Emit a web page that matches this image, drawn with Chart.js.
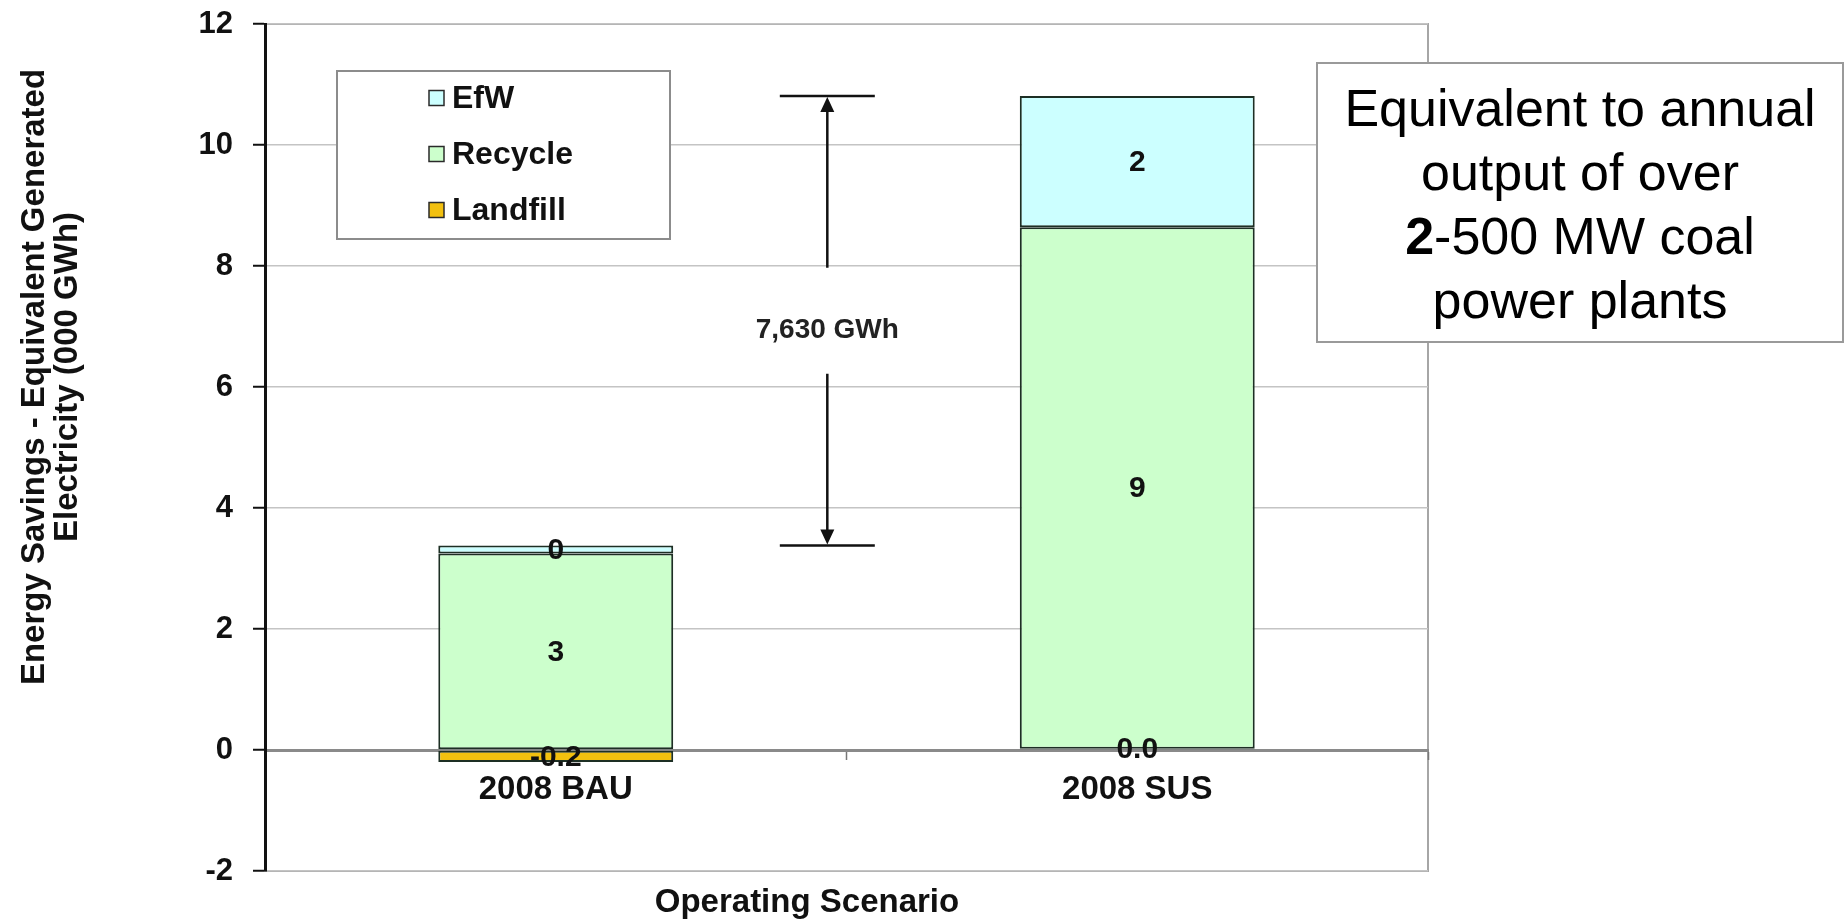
<!DOCTYPE html>
<html>
<head>
<meta charset="utf-8">
<title>Energy Savings by Operating Scenario</title>
<script src="https://cdn.jsdelivr.net/npm/chart.js@4/dist/chart.umd.min.js"></script>
<style>
  html, body { margin: 0; padding: 0; background: #ffffff; }
  #chart { display: block; }
</style>
</head>
<body>
<canvas id="chart" width="1847" height="922"></canvas>
<script>
// ---- data (thousand GWh) ----
const categories = ['2008 BAU', '2008 SUS'];
const landfill = [-0.2, 0.02];
const recycle = [3.25, 8.62];
const efw = [0.13, 2.17];
const seriesNames = ['Landfill', 'Recycle', 'EfW'];
const seriesDecimals = [1, 0, 0];
const yTicks = [-2, 0, 2, 4, 6, 8, 10, 12];

const yTitleLines = ['Energy Savings - Equivalent Generated', 'Electricity (000 GWh)'];
const xTitle = 'Operating Scenario';
const noteLines = ['Equivalent to annual', 'output of over', ['2', '-500 MW coal'], 'power plants'];

const FONT = 'Arial, "Liberation Sans", sans-serif';
const colors = { Landfill: '#f2c00f', Recycle: '#ccffcc', EfW: '#ccffff' };
const edge = '#1d2f24';

// target plot rectangle on the page
const PLOT = { left: 265, top: 24, right: 1428, bottom: 871 };

Chart.defaults.font.family = FONT;

// white page, plot frame
const framePlugin = {
  id: 'frame',
  beforeDraw(chart) {
    const { ctx, chartArea: a } = chart;
    ctx.save();
    ctx.fillStyle = '#ffffff';
    ctx.fillRect(0, 0, chart.width, chart.height);
    ctx.strokeStyle = '#a6a6a6';
    ctx.lineWidth = 2;
    ctx.strokeRect(a.left, a.top, a.right - a.left, a.bottom - a.top);
    ctx.restore();
  }
};

// value written in the middle of every bar segment
const segmentLabels = {
  id: 'segmentLabels',
  afterDatasetsDraw(chart) {
    const { ctx } = chart;
    ctx.save();
    ctx.font = 'bold 30px ' + FONT;
    ctx.fillStyle = '#111111';
    ctx.textAlign = 'center';
    ctx.textBaseline = 'middle';
    chart.data.datasets.forEach((ds, i) => {
      const meta = chart.getDatasetMeta(i);
      meta.data.forEach((bar, j) => {
        const v = ds.data[j];
        ctx.fillText(v.toFixed(seriesDecimals[i]), bar.x, (bar.y + bar.base) / 2 + 1);
      });
    });
    ctx.restore();
  }
};

// difference arrow between the two scenario totals
const gapArrow = {
  id: 'gapArrow',
  afterDatasetsDraw(chart) {
    const { ctx, scales: { x, y } } = chart;
    const totalA = landfill[0] + recycle[0] + efw[0];
    const totalB = landfill[1] + recycle[1] + efw[1];
    const yTop = y.getPixelForValue(totalB);
    const yBot = y.getPixelForValue(recycle[0] + efw[0]);
    const cx = x.getPixelForValue(0.467);
    const half = 47.5;
    const mid = (yTop + yBot) / 2;
    const gap = 53;
    ctx.save();
    ctx.strokeStyle = '#111111';
    ctx.fillStyle = '#111111';
    ctx.lineWidth = 2.5;
    ctx.beginPath();
    ctx.moveTo(cx - half, yTop); ctx.lineTo(cx + half, yTop);
    ctx.moveTo(cx - half, yBot); ctx.lineTo(cx + half, yBot);
    ctx.moveTo(cx, yTop + 14); ctx.lineTo(cx, mid - gap);
    ctx.moveTo(cx, mid + gap); ctx.lineTo(cx, yBot - 14);
    ctx.stroke();
    ctx.beginPath();
    ctx.moveTo(cx, yTop + 1); ctx.lineTo(cx - 7, yTop + 16); ctx.lineTo(cx + 7, yTop + 16); ctx.closePath();
    ctx.moveTo(cx, yBot - 1); ctx.lineTo(cx - 7, yBot - 16); ctx.lineTo(cx + 7, yBot - 16); ctx.closePath();
    ctx.fill();
    const diff = Math.round((totalB - totalA) * 1000);
    ctx.font = 'bold 28px ' + FONT;
    ctx.fillStyle = '#222222';
    ctx.textAlign = 'center';
    ctx.textBaseline = 'middle';
    ctx.fillText(diff.toLocaleString('en-US') + ' GWh', cx, mid + 10);
    ctx.restore();
  }
};

// boxed legend, note box and axis titles
const decorations = {
  id: 'decorations',
  afterDraw(chart) {
    const { ctx, chartArea: a } = chart;
    ctx.save();

    // legend box
    const lx = 337, ly = 71, lw = 333, lh = 168;
    ctx.fillStyle = '#ffffff';
    ctx.fillRect(lx, ly, lw, lh);
    ctx.strokeStyle = '#8c8c8c';
    ctx.lineWidth = 2;
    ctx.strokeRect(lx, ly, lw, lh);
    const order = chart.data.datasets.slice().reverse();
    ctx.font = 'bold 32px ' + FONT;
    ctx.textBaseline = 'middle';
    ctx.textAlign = 'left';
    order.forEach((ds, k) => {
      const cy = 98 + k * 56;
      ctx.fillStyle = ds.backgroundColor;
      ctx.fillRect(429, cy - 7.5, 15, 15);
      ctx.strokeStyle = '#2a2a2a';
      ctx.lineWidth = 1.5;
      ctx.strokeRect(429, cy - 7.5, 15, 15);
      ctx.fillStyle = '#111111';
      ctx.fillText(ds.label, 452, cy + 1);
    });

    // note box
    const nx = 1317, ny = 63, nw = 526, nh = 279;
    ctx.fillStyle = '#ffffff';
    ctx.fillRect(nx, ny, nw, nh);
    ctx.strokeStyle = '#9a9a9a';
    ctx.lineWidth = 2;
    ctx.strokeRect(nx, ny, nw, nh);
    ctx.fillStyle = '#000000';
    ctx.textBaseline = 'alphabetic';
    const ncx = nx + nw / 2;
    noteLines.forEach((line, k) => {
      const by = 126 + k * 64;
      if (Array.isArray(line)) {
        ctx.font = 'bold 52px ' + FONT;
        const w0 = ctx.measureText(line[0]).width;
        ctx.font = '52px ' + FONT;
        const w1 = ctx.measureText(line[1]).width;
        const sx = ncx - (w0 + w1) / 2;
        ctx.textAlign = 'left';
        ctx.font = 'bold 52px ' + FONT;
        ctx.fillText(line[0], sx, by);
        ctx.font = '52px ' + FONT;
        ctx.fillText(line[1], sx + w0, by);
      } else {
        ctx.textAlign = 'center';
        ctx.font = '52px ' + FONT;
        ctx.fillText(line, ncx, by);
      }
    });

    // y axis title (two lines, rotated)
    ctx.save();
    ctx.translate(0, 377);
    ctx.rotate(-Math.PI / 2);
    ctx.font = 'bold 33px ' + FONT;
    ctx.fillStyle = '#111111';
    ctx.textAlign = 'center';
    ctx.textBaseline = 'middle';
    ctx.fillText(yTitleLines[0], 0, 35);
    ctx.fillText(yTitleLines[1], 0, 68);
    ctx.restore();

    // x axis title
    ctx.font = 'bold 33px ' + FONT;
    ctx.fillStyle = '#111111';
    ctx.textAlign = 'center';
    ctx.textBaseline = 'middle';
    ctx.fillText(xTitle, a.left + (a.right - a.left) * 0.466, 903);

    ctx.restore();
  }
};

const seriesData = [landfill, recycle, efw];
const datasets = seriesNames.map((name, i) => ({
  label: name,
  data: seriesData[i],
  backgroundColor: colors[name],
  borderColor: edge,
  borderWidth: 2,
  borderSkipped: false,
  barPercentage: 0.404,
  categoryPercentage: 1.0
}));

function zeroPadding(scale) {
  scale.paddingTop = 0;
  scale.paddingBottom = 0;
  scale.paddingLeft = 0;
  scale.paddingRight = 0;
}

const chart = new Chart(document.getElementById('chart'), {
  type: 'bar',
  data: { labels: categories, datasets },
  options: {
    responsive: false,
    devicePixelRatio: 1,
    animation: false,
    layout: { padding: { top: PLOT.top, right: 1847 - PLOT.right, bottom: 922 - PLOT.bottom, left: 0 } },
    plugins: {
      legend: { display: false },
      tooltip: { enabled: false },
      title: { display: false }
    },
    scales: {
      x: {
        stacked: true,
        position: { y: 0 },
        afterFit(scale) { scale.height = 0; zeroPadding(scale); },
        border: { display: true, color: '#8a8a8a', width: 3 },
        grid: { display: true, drawOnChartArea: false, offset: true, tickLength: 8, tickColor: '#777777', tickWidth: 1.5 },
        ticks: { color: '#111111', padding: 12, font: { size: 33, weight: 'bold' } }
      },
      y: {
        stacked: true,
        min: yTicks[0],
        max: yTicks[yTicks.length - 1],
        afterFit(scale) { scale.width = PLOT.left; zeroPadding(scale); },
        afterBuildTicks(scale) { scale.ticks = yTicks.map(v => ({ value: v })); },
        border: { display: true, color: '#111111', width: 3 },
        grid: { color: '#c4c4c4', lineWidth: 1.5, tickColor: '#111111', tickLength: 12, tickWidth: 2 },
        ticks: { color: '#111111', padding: 20, font: { size: 31, weight: 'bold' } }
      }
    }
  },
  plugins: [framePlugin, segmentLabels, gapArrow, decorations]
});

// nudge the layout padding so the plot rectangle lands where intended
(function settle() {
  const a = chart.chartArea;
  const p = chart.options.layout.padding;
  const dTop = a.top - PLOT.top, dBottom = PLOT.bottom - a.bottom;
  const dLeft = a.left - PLOT.left, dRight = PLOT.right - a.right;
  if (Math.abs(dTop) + Math.abs(dBottom) + Math.abs(dLeft) + Math.abs(dRight) > 0.5) {
    p.top = Math.max(0, p.top - dTop);
    p.bottom = Math.max(0, p.bottom - dBottom);
    p.right = Math.max(0, p.right - dRight);
    chart.update();
  }
})();
</script>
</body>
</html>
